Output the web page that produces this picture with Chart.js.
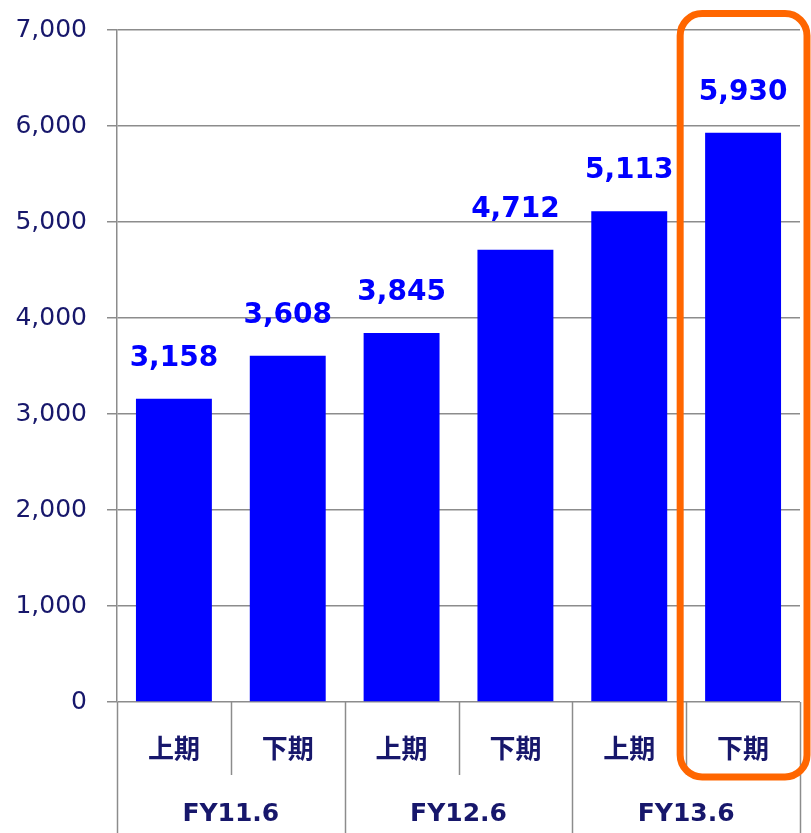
<!DOCTYPE html>
<html><head><meta charset="utf-8">
<script src="https://cdn.jsdelivr.net/npm/chart.js@4.4.0/dist/chart.umd.min.js"></script>
<style>html,body{margin:0;padding:0;background:#fff;overflow:hidden}#wrap{width:811px;height:833px;position:relative}</style>
</head><body><div id="wrap"><canvas id="c"></canvas></div>
<script>
const halfLabels = ['上期','下期','上期','下期','上期','下期'];
const fyLabels = ['FY11.6','FY12.6','FY13.6'];
const values = [3158, 3608, 3845, 4712, 5113, 5930];
const yMin = 0, yMax = 7000, yStep = 1000;
const highlightIndex = 5;

const NAVY = '#17176b';
const GRID = '#8c8c8c';
const FONT = "'DejaVu Sans', Verdana, 'Noto Sans CJK JP', sans-serif";

const overlay = {
  id: 'overlay',
  afterDraw(chart) {
    const ctx = chart.ctx;
    const x = chart.scales.x, y = chart.scales.y;
    const area = chart.chartArea;
    const H = chart.height;
    const b = i => x.getPixelForValue(i - 0.5);
    ctx.save();
    ctx.strokeStyle = GRID;
    ctx.lineWidth = 1.5;
    [0, 2, 4, 6].forEach(g => {
      const px = Math.round(b(g)) + 0.5;
      ctx.beginPath(); ctx.moveTo(px, area.bottom); ctx.lineTo(px, H); ctx.stroke();
    });
    [1, 3, 5].forEach(g => {
      const px = Math.round(b(g)) + 0.5;
      ctx.beginPath(); ctx.moveTo(px, area.bottom); ctx.lineTo(px, area.bottom + 73); ctx.stroke();
    });
    ctx.fillStyle = NAVY;
    ctx.textAlign = 'center';
    ctx.textBaseline = 'middle';
    ctx.font = "bold 26px 'Noto Sans CJK JP', sans-serif";
    halfLabels.forEach((l, i) => ctx.fillText(l, x.getPixelForValue(i), area.bottom + 46));
    ctx.font = "bold 25px " + FONT;
    fyLabels.forEach((l, i) => ctx.fillText(l, (b(2 * i) + b(2 * i + 2)) / 2, area.bottom + 112));
    const meta = chart.getDatasetMeta(0);
    ctx.fillStyle = '#0000ff';
    ctx.font = "bold 28px " + FONT;
    ctx.textBaseline = 'alphabetic';
    meta.data.forEach((el, i) => {
      ctx.fillText(values[i].toLocaleString('en-US'), el.x, el.y - 33);
    });
    const l = b(highlightIndex) - 6, r = b(highlightIndex + 1) + 7;
    const t = y.getPixelForValue(yMax) - 16.5, bt = area.bottom + 75;
    ctx.strokeStyle = '#ff6600';
    ctx.lineWidth = 7;
    ctx.beginPath();
    ctx.roundRect(l, t, r - l, bt - t, 22);
    ctx.stroke();
    ctx.restore();
  }
};

new Chart(document.getElementById('c'), {
  type: 'bar',
  data: {
    labels: halfLabels,
    datasets: [{
      data: values,
      backgroundColor: '#0000ff',
      borderWidth: 0,
      categoryPercentage: 1,
      barPercentage: 0.667
    }]
  },
  options: {
    responsive: true,
    maintainAspectRatio: false,
    animation: false,
    layout: { padding: { top: 30, right: 11, left: 0, bottom: 0 } },
    plugins: { legend: { display: false }, tooltip: { enabled: false } },
    scales: {
      x: {
        ticks: { display: false },
        grid: { display: false },
        border: { display: false },
        afterFit(s) { s.height = 131; s.paddingLeft = 0; s.paddingRight = 0; }
      },
      y: {
        min: yMin, max: yMax,
        ticks: {
          stepSize: yStep,
          padding: 20,
          color: NAVY,
          font: { family: FONT, size: 25 },
          callback: v => v.toLocaleString('en-US')
        },
        grid: { color: GRID, lineWidth: 1.5, tickLength: 10 },
        border: { display: true, color: GRID, width: 1.5 },
        afterFit(s) { s.width = 117; s.paddingTop = 0; s.paddingBottom = 0; }
      }
    }
  },
  plugins: [overlay]
});
</script>
</body></html>
